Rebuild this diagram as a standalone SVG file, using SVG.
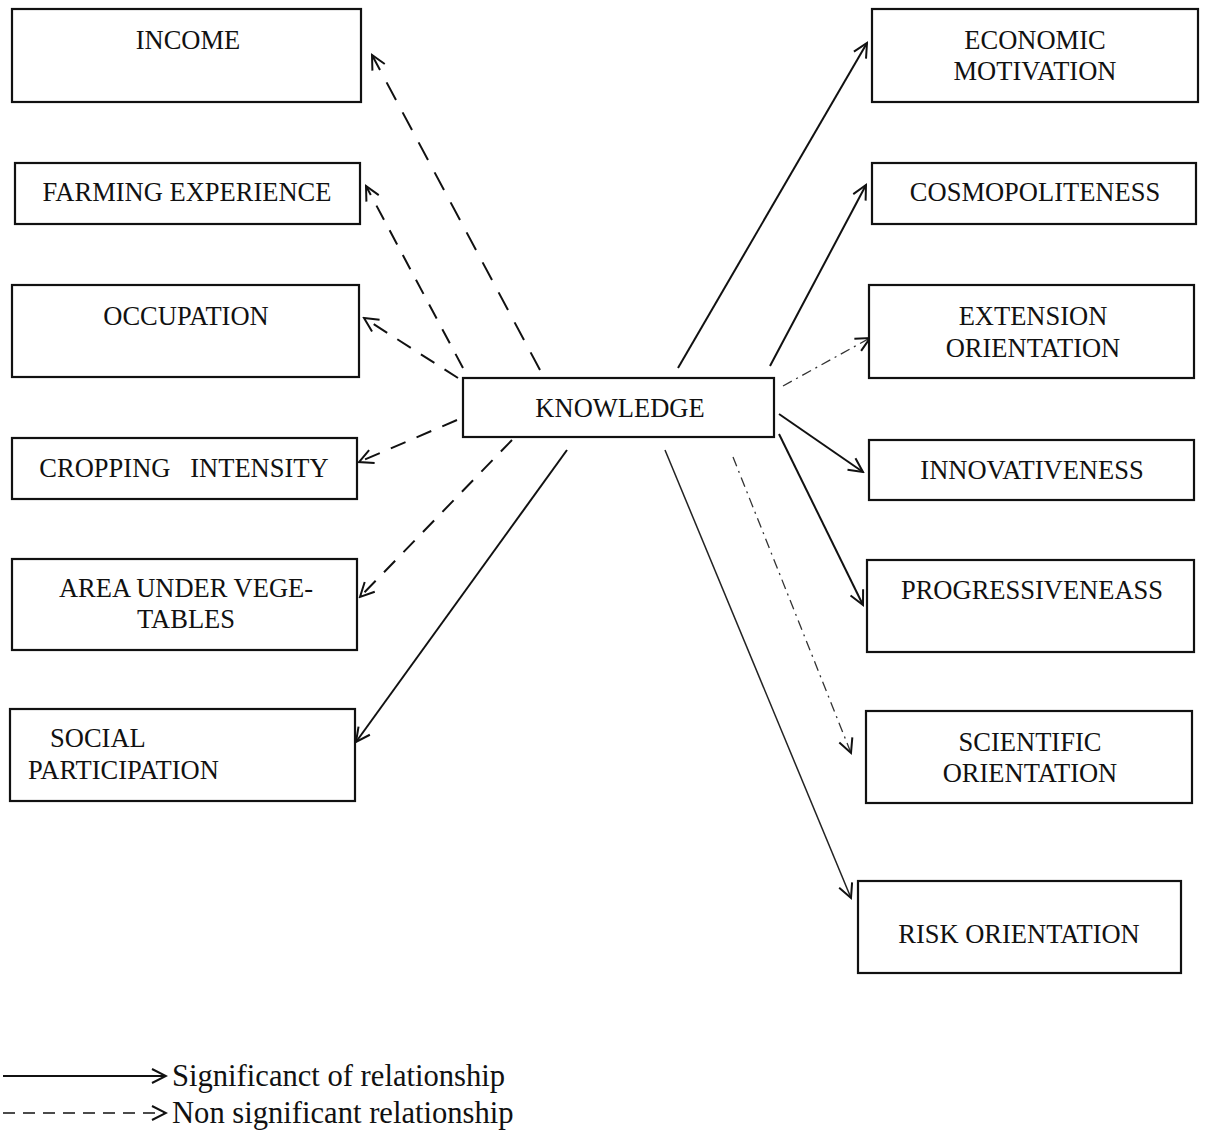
<svg xmlns="http://www.w3.org/2000/svg" width="1205" height="1131" viewBox="0 0 1205 1131">
<style>
.box{fill:#fff;stroke:#111;stroke-width:2.2}
.t{font-family:"Liberation Serif","Times New Roman",serif;font-size:26.5px;fill:#111;text-anchor:middle}
.tl{font-family:"Liberation Serif","Times New Roman",serif;font-size:26.5px;fill:#111}
.leg{font-family:"Liberation Serif","Times New Roman",serif;font-size:30.6px;fill:#111}
.sol{stroke:#111;stroke-width:2;fill:none}
.solt{stroke:#222;stroke-width:1.5;fill:none}
.das{stroke:#111;stroke-width:2;fill:none;stroke-dasharray:16 12}
.dd{stroke:#333;stroke-width:1.3;fill:none;stroke-dasharray:10 5 2 5}
</style>
<defs>
<marker id="ah" markerWidth="18" markerHeight="18" refX="16" refY="9" orient="auto" markerUnits="userSpaceOnUse">
<path d="M2,2 L16,9 L2,16" fill="none" stroke="#111" stroke-width="2"/>
</marker>
</defs>

<g id="connectors">
<line class="das" x1="540" y1="370" x2="372" y2="55" style="stroke-dasharray:20 14" marker-end="url(#ah)"/>
<line class="das" x1="463" y1="368" x2="366" y2="186" marker-end="url(#ah)"/>
<line class="das" x1="458" y1="378" x2="364" y2="318" marker-end="url(#ah)"/>
<line class="das" x1="457" y1="420" x2="359" y2="462" marker-end="url(#ah)"/>
<line class="das" x1="512" y1="440" x2="360" y2="597" marker-end="url(#ah)"/>
<line class="sol" x1="567" y1="450" x2="356" y2="742" marker-end="url(#ah)"/>
<line class="sol" x1="678" y1="368" x2="867" y2="43" marker-end="url(#ah)"/>
<line class="sol" x1="770" y1="366" x2="866" y2="185" marker-end="url(#ah)"/>
<line class="dd" x1="783" y1="386" x2="870" y2="338" marker-end="url(#ah)"/>
<line class="sol" x1="779" y1="414" x2="863" y2="472" marker-end="url(#ah)"/>
<line class="sol" x1="779" y1="434" x2="863" y2="605" marker-end="url(#ah)"/>
<line class="dd" x1="733" y1="457" x2="851" y2="753" marker-end="url(#ah)"/>
<line class="solt" x1="665" y1="450" x2="851" y2="898" marker-end="url(#ah)"/>
</g>

<g id="n-income"><rect class="box" x="12" y="9" width="349" height="93"/><text class="t" x="188" y="49">INCOME</text></g>
<g id="n-farming"><rect class="box" x="15" y="163" width="345" height="61"/><text class="t" x="187" y="201">FARMING EXPERIENCE</text></g>
<g id="n-occupation"><rect class="box" x="12" y="285" width="347" height="92"/><text class="t" x="186" y="325">OCCUPATION</text></g>
<g id="n-cropping"><rect class="box" x="12" y="438" width="345" height="61"/><text class="t" x="184" y="477" xml:space="preserve">CROPPING   INTENSITY</text></g>
<g id="n-area"><rect class="box" x="12" y="559" width="345" height="91"/><text class="t" x="186" y="597">AREA UNDER VEGE-</text><text class="t" x="186" y="628">TABLES</text></g>
<g id="n-social"><rect class="box" x="10" y="709" width="345" height="92"/><text class="tl" x="50" y="747">SOCIAL</text><text class="tl" x="28" y="779">PARTICIPATION</text></g>

<g id="n-knowledge"><rect class="box" x="463" y="378" width="311" height="59"/><text class="t" x="620" y="417">KNOWLEDGE</text></g>

<g id="n-economic"><rect class="box" x="872" y="9" width="326" height="93"/><text class="t" x="1035" y="49">ECONOMIC</text><text class="t" x="1035" y="80">MOTIVATION</text></g>
<g id="n-cosmo"><rect class="box" x="872" y="163" width="324" height="61"/><text class="t" x="1035" y="201">COSMOPOLITENESS</text></g>
<g id="n-extension"><rect class="box" x="869" y="285" width="325" height="93"/><text class="t" x="1033" y="325">EXTENSION</text><text class="t" x="1033" y="357">ORIENTATION</text></g>
<g id="n-innov"><rect class="box" x="869" y="440" width="325" height="60"/><text class="t" x="1032" y="479">INNOVATIVENESS</text></g>
<g id="n-progress"><rect class="box" x="867" y="560" width="327" height="92"/><text class="t" x="1032" y="599">PROGRESSIVENEASS</text></g>
<g id="n-scientific"><rect class="box" x="866" y="711" width="326" height="92"/><text class="t" x="1030" y="751">SCIENTIFIC</text><text class="t" x="1030" y="782">ORIENTATION</text></g>
<g id="n-risk"><rect class="box" x="858" y="881" width="323" height="92"/><text class="t" x="1019" y="943">RISK ORIENTATION</text></g>

<g id="legend">
<line class="sol" x1="3" y1="1076" x2="166" y2="1076" marker-end="url(#ah)"/>
<line class="das" x1="3" y1="1113" x2="166" y2="1113" style="stroke-dasharray:12 8;stroke-width:1.5" marker-end="url(#ah)"/>
<text class="leg" x="172" y="1086">Significanct of relationship</text>
<text class="leg" x="172" y="1123">Non significant relationship</text>
</g>
</svg>
